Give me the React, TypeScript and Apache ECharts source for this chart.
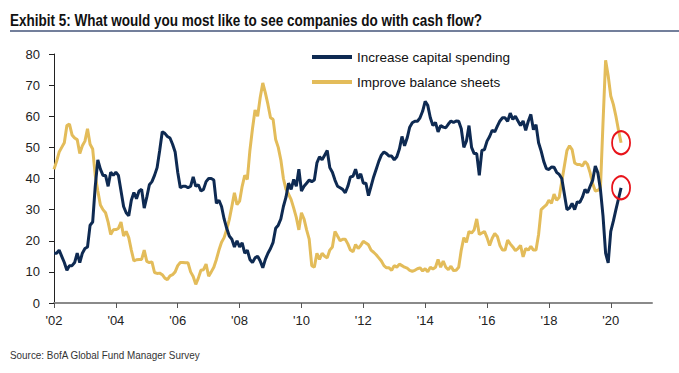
import { useEffect, useRef } from "react";
import * as echarts from "echarts";

// Monthly survey readings, Jan 2002 onward (% of respondents)
const capexSpending = [
  16, 16, 17, 15, 13, 10.5, 12, 12, 13, 16, 13, 16,
  17.5, 18, 25, 26, 37.5, 46, 43, 41, 41, 37.5, 42, 41,
  42, 41, 36, 31, 29, 28, 33, 35.5, 33.5, 36, 36.5, 30.5,
  34, 38, 39, 41, 43.5, 49, 55, 54.5, 53.5, 53, 51, 48.5,
  42, 37, 37.5, 37.5, 37, 37.5, 40.5, 37.5, 38, 36, 36.5, 39,
  40, 40, 39.5, 32, 33, 31, 27, 24, 21.5, 20.5, 18, 20,
  18, 19.3, 16, 17, 14, 13, 14.5, 15, 13.5, 11.3, 14, 16,
  17.5, 19.5, 24, 25, 27, 31, 34, 38.5, 36.5, 39.7, 37.5, 43,
  36, 37.5, 38.5, 39.5, 39, 39.5, 45, 47, 46, 47.5, 49, 43.5,
  42, 39.5, 37.5, 37, 36.5, 35.4, 37.5, 40.5, 40.7, 43, 40, 41.5,
  38.5, 38.5, 34.5, 37.5, 40.5, 43, 45.5, 47.5, 48.5, 48, 47.2, 47.2,
  46, 47, 49.5, 53.5, 50.5, 53, 56.5, 57.9, 58.4, 58.4, 59.5, 61.6,
  64.8, 63.5, 59.5, 57, 58, 55, 57, 56.5, 56.3, 57.5, 58.5, 58,
  58.5, 58.4, 56, 50, 52, 57, 50, 48, 48, 41, 49, 49.3,
  52, 53.5, 55.5, 55, 56.8, 58.5, 59.5, 59.5, 58.4, 61, 59, 60,
  58.5, 57, 58.5, 55.5, 58.4, 60.6, 55.7, 57.3, 51.5, 48.8, 45.5, 43.2,
  42.9, 43.7, 43.6, 42, 41.3, 40, 35, 30, 30.5, 32, 30, 32.5,
  32.3, 34, 36.5, 35.4, 37.5, 39.5, 44, 41.8, 36.4, 27.9, 16, 12.9,
  23, 26.3, 30, 33.5, 37,
];

const balanceSheets = [
  43, 45.5, 48.5, 50, 51.5, 57, 57.5, 54, 53, 52.5, 48, 50.5,
  52, 56, 51, 49.5, 41, 36, 31.5, 30, 29, 26, 22, 23.5,
  23.6, 24, 26, 21.5, 23, 21, 17, 13.5, 13.9, 14, 14, 17,
  13.4, 13, 13.2, 9.8, 9.5, 9.6, 9.1, 8, 7.5, 8.7, 9.1, 10,
  12, 13, 13, 12.9, 12.9, 10, 8.5, 6, 8, 10.5, 10.7, 12.5,
  8.6, 10, 11.5, 14, 17, 19.5, 21, 23.6, 26.8, 31, 35.4, 31.6,
  32.7, 37.5, 41, 39.7, 49, 56, 62, 60, 66, 70.7, 67.5, 63.8,
  59.5, 59, 52.5, 50, 46, 40, 36.5, 35, 33.2, 30.5, 27.5, 23.5,
  29, 27, 23.5, 20.5, 12, 11.5, 16, 14, 16, 15, 14.5, 17,
  18, 23, 21.5, 20, 20.5, 20.5, 19, 17, 16.5, 18.8, 17.5, 18.5,
  19.8, 19.3, 18.7, 17, 16.3, 15.5, 14.5, 13.5, 12, 11.3, 11.3, 10.5,
  12, 11.5, 12.5, 12, 11.5, 11.2, 10.5, 10.2, 10.5, 11, 11.3, 10.3,
  11, 10, 11.5, 10.9, 11.5, 14, 11.5, 13.5, 11.5, 10.7, 11.8, 10.4,
  10.5, 11.5, 17, 21, 19.5, 23, 22.5, 23.5, 27, 22, 22.5, 23,
  21, 18.5, 20.8, 22.3, 21.4, 18.5, 17, 17, 20.2, 19, 18, 16.8,
  17.5, 18.5, 14.8, 17.5, 17, 18.2, 17, 17, 22, 30, 30.8, 31.5,
  33, 32, 35, 33, 34, 39, 44, 49, 50.5, 49.3, 45, 44.5,
  44.5, 44, 45.5, 44.5, 41.8, 38.3, 36, 36.2, 37, 58, 78, 73,
  66.5, 63.8, 60, 55.5, 51.5,
];

const seriesNames = ["Increase capital spending", "Improve balance sheets"];
const xTickLabels = ["'02", "'04", "'06", "'08", "'10", "'12", "'14", "'16", "'18", "'20"];
const startYear = 2002;
const axisMonths = 233; // Jan 2002 .. May 2021

const NAVY = "#0e2a52";
const GOLD = "#e3bc5a";
const RED = "#e8141b";

export default function App() {
  const ref = useRef<HTMLDivElement>(null);

  useEffect(() => {
    document.body.style.margin = "0";
    const chart = echarts.init(ref.current!, null, { renderer: "svg" });

    const categories: string[] = [];
    for (let i = 0; i < axisMonths; i++) {
      const y = startYear + Math.floor(i / 12);
      const m = (i % 12) + 1;
      categories.push(`${y}-${String(m).padStart(2, "0")}`);
    }
    const isTick = (idx: number) => idx % 24 === 0 && idx / 24 < xTickLabels.length;

    const lastC = capexSpending.length - 1;
    const lastB = balanceSheets.length - 1;
    const ring = {
      symbol: "circle",
      symbolSize: [18, 23],
      itemStyle: { color: "rgba(0,0,0,0)", borderColor: RED, borderWidth: 2 },
      label: { show: false },
    };

    chart.setOption({
      animation: false,
      graphic: [
        {
          type: "text",
          x: 10,
          y: 21,
          scaleX: 0.845,
          style: {
            text: "Exhibit 5: What would you most like to see companies do with cash flow?",
            fontFamily: "'Liberation Sans', Arial",
            fontWeight: "bold",
            fontSize: 16,
            fill: "#111",
            verticalAlign: "middle",
          },
        },
        {
          type: "line",
          shape: { x1: 10, y1: 31, x2: 679, y2: 31 },
          style: { stroke: "#44557a", lineWidth: 1.5 },
        },
        {
          type: "text",
          x: 10,
          y: 355,
          scaleX: 0.9,
          style: {
            text: "Source: BofA Global Fund Manager Survey",
            fontFamily: "'Liberation Sans', Arial",
            fontSize: 11,
            fill: "#333",
            verticalAlign: "middle",
          },
        },
      ],
      legend: {
        data: seriesNames,
        orient: "vertical",
        left: 307,
        top: 44,
        icon: "rect",
        itemWidth: 40,
        itemHeight: 4,
        itemGap: 9,
        textStyle: { fontFamily: "'Liberation Sans', Arial", fontSize: 13.5, color: "#111", lineHeight: 16 },
      },
      grid: { left: 54, right: 27, top: 54, bottom: 70, containLabel: false, outerBoundsMode: "none" },
      xAxis: {
        type: "category",
        data: categories,
        boundaryGap: false,
        axisLine: { lineStyle: { color: "#8a8a8a", width: 2 } },
        axisTick: { interval: (i: number) => isTick(i), length: 5, lineStyle: { color: "#555", width: 1 } },
        axisLabel: {
          interval: (i: number) => isTick(i),
          formatter: (_v: string, i: number) => (isTick(i) ? xTickLabels[i / 24] : ""),
          fontFamily: "'Liberation Sans', Arial",
          fontSize: 13,
          color: "#222",
          margin: 11,
        },
        splitLine: { show: false },
      },
      yAxis: {
        type: "value",
        min: 0,
        max: 80,
        interval: 10,
        axisLine: { show: true, lineStyle: { color: "#222", width: 1 } },
        axisTick: { show: true, length: 5, lineStyle: { color: "#222" } },
        axisLabel: { fontFamily: "'Liberation Sans', Arial", fontSize: 13, color: "#222", margin: 14 },
        splitLine: { show: false },
      },
      series: [
        {
          name: seriesNames[1],
          type: "line",
          data: balanceSheets,
          showSymbol: false,
          symbol: "none",
          lineStyle: { color: GOLD, width: 3 },
          itemStyle: { color: GOLD },
          markPoint: { ...ring, data: [{ coord: [categories[lastB], balanceSheets[lastB]] }] },
        },
        {
          name: seriesNames[0],
          type: "line",
          data: capexSpending,
          showSymbol: false,
          symbol: "none",
          lineStyle: { color: NAVY, width: 3 },
          itemStyle: { color: NAVY },
          markPoint: { ...ring, data: [{ coord: [categories[lastC], capexSpending[lastC]] }] },
        },
      ],
    });

    return () => chart.dispose();
  }, []);

  return <div ref={ref} style={{ width: 679, height: 373 }} />;
}
